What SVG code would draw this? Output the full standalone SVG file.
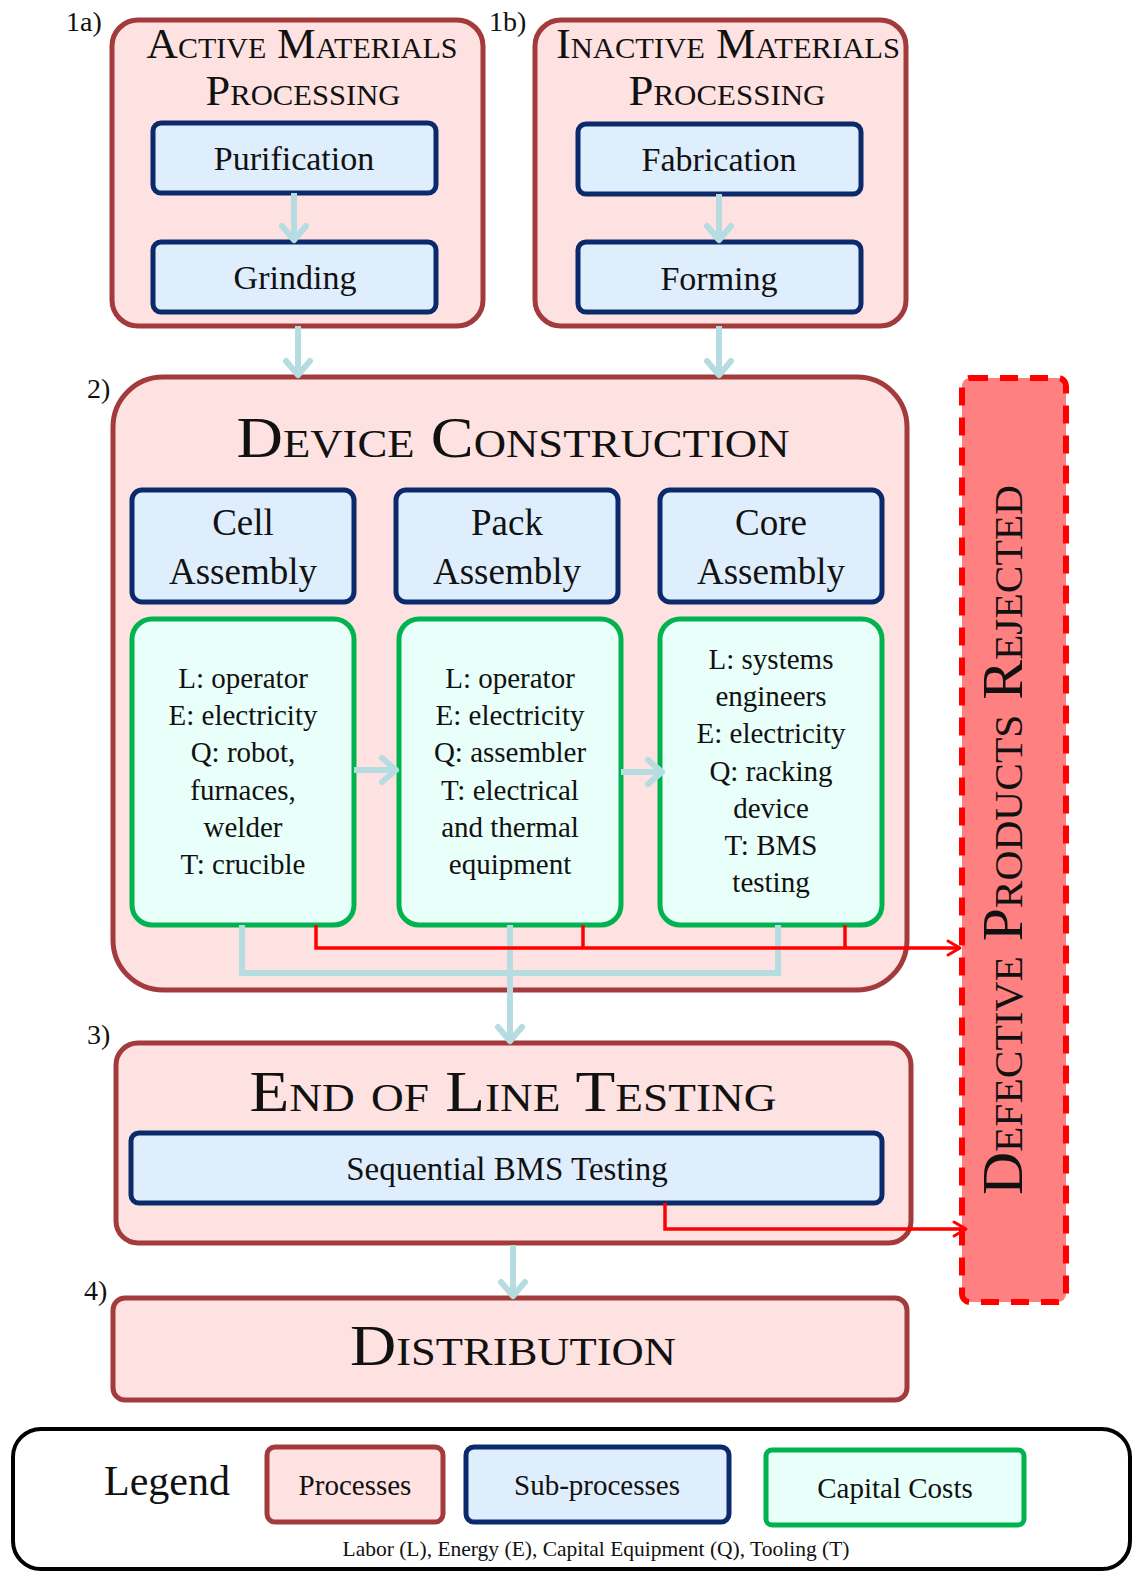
<svg xmlns="http://www.w3.org/2000/svg" width="1135" height="1572" viewBox="0 0 1135 1572">
<defs>
<style>
.proc{fill:#FEE1E1;stroke:#A33A3B;stroke-width:5}
.sub{fill:#DFEEFD;stroke:#0B2A6B;stroke-width:5}
.cap{fill:#E9FFF9;stroke:#00B34F;stroke-width:5}
.rej{fill:#FF8080;stroke:#FF0000;stroke-width:6;stroke-dasharray:18 12}
.leg{fill:#FFFFFF;stroke:#000000;stroke-width:4}
text{font-family:"Liberation Serif","Times New Roman",serif;fill:#111111}
.num{font-size:28px}
.sc{font-variant:small-caps;text-anchor:middle}
.t1{font-size:42px}
.t2{font-size:56px}
.st{font-size:34px;text-anchor:middle}
.as{font-size:37px;text-anchor:middle}
.cc{font-size:29px;text-anchor:middle}
.bl{fill:none;stroke:#B5DDE1;stroke-width:6}
.rl{fill:none;stroke:#FF0000;stroke-width:3.5}
</style>
<marker id="ba" markerUnits="userSpaceOnUse" markerWidth="32" markerHeight="32" viewBox="0 0 32 32" refX="27" refY="16" orient="auto">
<path d="M13,4 L27,16 L13,28" fill="none" stroke="#B5DDE1" stroke-width="6" stroke-linecap="round" stroke-linejoin="round"/>
</marker>
<marker id="ra" markerUnits="userSpaceOnUse" markerWidth="20" markerHeight="20" viewBox="0 0 20 20" refX="17" refY="10" orient="auto">
<path d="M5,3 L17,10 L5,17" fill="none" stroke="#FF0000" stroke-width="3" stroke-linecap="round" stroke-linejoin="round"/>
</marker>
</defs>

<g id="n1a">
<rect class="proc" x="112" y="20" width="371" height="306" rx="26"/>
<text class="sc t1" x="302" y="58" textLength="311" lengthAdjust="spacingAndGlyphs">Active Materials</text>
<text class="sc t1" x="303" y="105" textLength="195" lengthAdjust="spacingAndGlyphs">Processing</text>
</g>
<g id="purification">
<rect class="sub" x="153" y="123" width="283" height="70" rx="8"/>
<text class="st" x="294" y="170">Purification</text>
</g>
<g id="grinding">
<rect class="sub" x="153" y="242" width="283" height="70" rx="8"/>
<text class="st" x="295" y="289">Grinding</text>
</g>

<g id="n1b">
<rect class="proc" x="535" y="20" width="371" height="306" rx="26"/>
<text class="sc t1" x="728" y="58" textLength="344" lengthAdjust="spacingAndGlyphs">Inactive Materials</text>
<text class="sc t1" x="727" y="105" textLength="197" lengthAdjust="spacingAndGlyphs">Processing</text>
</g>
<g id="fabrication">
<rect class="sub" x="578" y="124" width="283" height="70" rx="8"/>
<text class="st" x="719" y="171">Fabrication</text>
</g>
<g id="forming">
<rect class="sub" x="578" y="242" width="283" height="70" rx="8"/>
<text class="st" x="719" y="290">Forming</text>
</g>

<g id="n2">
<rect class="proc" x="113" y="377" width="794" height="613" rx="50"/>
<text class="sc t2" x="513" y="457" textLength="553" lengthAdjust="spacingAndGlyphs">Device Construction</text>
</g>
<g id="cell">
<rect class="sub" x="132" y="490" width="222" height="112" rx="10"/>
<text class="as" x="243" y="535">Cell</text>
<text class="as" x="243" y="584">Assembly</text>
</g>
<g id="pack">
<rect class="sub" x="396" y="490" width="222" height="112" rx="10"/>
<text class="as" x="507" y="535">Pack</text>
<text class="as" x="507" y="584">Assembly</text>
</g>
<g id="core">
<rect class="sub" x="660" y="490" width="222" height="112" rx="10"/>
<text class="as" x="771" y="535">Core</text>
<text class="as" x="771" y="584">Assembly</text>
</g>
<g id="cellcost">
<rect class="cap" x="132" y="619" width="222" height="306" rx="20"/>
<text class="cc" x="243" y="688">L: operator</text>
<text class="cc" x="243" y="725">E: electricity</text>
<text class="cc" x="243" y="762">Q: robot,</text>
<text class="cc" x="243" y="800">furnaces,</text>
<text class="cc" x="243" y="837">welder</text>
<text class="cc" x="243" y="874">T: crucible</text>
</g>
<g id="packcost">
<rect class="cap" x="399" y="619" width="222" height="306" rx="20"/>
<text class="cc" x="510" y="688">L: operator</text>
<text class="cc" x="510" y="725">E: electricity</text>
<text class="cc" x="510" y="762">Q: assembler</text>
<text class="cc" x="510" y="800">T: electrical</text>
<text class="cc" x="510" y="837">and thermal</text>
<text class="cc" x="510" y="874">equipment</text>
</g>
<g id="corecost">
<rect class="cap" x="660" y="619" width="222" height="306" rx="20"/>
<text class="cc" x="771" y="669">L: systems</text>
<text class="cc" x="771" y="706">engineers</text>
<text class="cc" x="771" y="743">E: electricity</text>
<text class="cc" x="771" y="781">Q: racking</text>
<text class="cc" x="771" y="818">device</text>
<text class="cc" x="771" y="855">T: BMS</text>
<text class="cc" x="771" y="892">testing</text>
</g>

<g id="rejected">
<rect class="rej" x="962" y="378" width="104" height="924" rx="8"/>
<text class="sc t2" x="0" y="0" transform="translate(1022,840) rotate(-90)" textLength="710" lengthAdjust="spacingAndGlyphs">Defective Products Rejected</text>
</g>

<g id="n3">
<rect class="proc" x="116" y="1043" width="795" height="200" rx="22"/>
<text class="sc t2" x="513" y="1111" textLength="527" lengthAdjust="spacingAndGlyphs">End of Line Testing</text>
</g>
<g id="bms">
<rect class="sub" x="131" y="1133" width="751" height="70" rx="8"/>
<text class="st" x="507" y="1180" style="font-size:33px">Sequential BMS Testing</text>
</g>

<g id="n4">
<rect class="proc" x="113" y="1298" width="794" height="102" rx="12"/>
<text class="sc t2" x="513" y="1365" textLength="326" lengthAdjust="spacingAndGlyphs">Distribution</text>
</g>

<g id="labels">
<text class="num" x="66" y="31">1a)</text>
<text class="num" x="489" y="31">1b)</text>
<text class="num" x="87" y="398">2)</text>
<text class="num" x="87" y="1044">3)</text>
<text class="num" x="84" y="1300">4)</text>
</g>

<g id="legend">
<rect class="leg" x="13" y="1429" width="1117" height="140" rx="28"/>
<text x="104" y="1495" style="font-size:42px">Legend</text>
<rect class="proc" x="267" y="1447" width="176" height="75" rx="8"/>
<text x="355" y="1495" style="font-size:29px;text-anchor:middle">Processes</text>
<rect class="sub" x="466" y="1447" width="263" height="75" rx="8"/>
<text x="597" y="1495" style="font-size:29px;text-anchor:middle">Sub-processes</text>
<rect class="cap" x="766" y="1450" width="258" height="75" rx="6"/>
<text x="895" y="1498" style="font-size:29px;text-anchor:middle">Capital Costs</text>
<text x="596" y="1556" style="font-size:21.5px;text-anchor:middle">Labor (L), Energy (E), Capital Equipment (Q), Tooling (T)</text>
</g>

<g id="connectors">
<path class="bl" d="M294,193 V240" marker-end="url(#ba)"/>
<path class="bl" d="M719,194 V240" marker-end="url(#ba)"/>
<path class="bl" d="M298,326 V375" marker-end="url(#ba)"/>
<path class="bl" d="M719,326 V375" marker-end="url(#ba)"/>
<path class="bl" d="M354,770 H396" marker-end="url(#ba)"/>
<path class="bl" d="M621,772 H662" marker-end="url(#ba)"/>
<path class="bl" d="M242,925 V973 H778 V925"/>
<path class="bl" d="M510,925 V1041" marker-end="url(#ba)"/>
<path class="bl" d="M513,1245 V1296" marker-end="url(#ba)"/>
<path class="rl" d="M316,925 V948 H960" marker-end="url(#ra)"/>
<path class="rl" d="M583,925 V948"/>
<path class="rl" d="M845,925 V948"/>
<path class="rl" d="M665,1203 V1229 H966" marker-end="url(#ra)"/>
</g>
</svg>
